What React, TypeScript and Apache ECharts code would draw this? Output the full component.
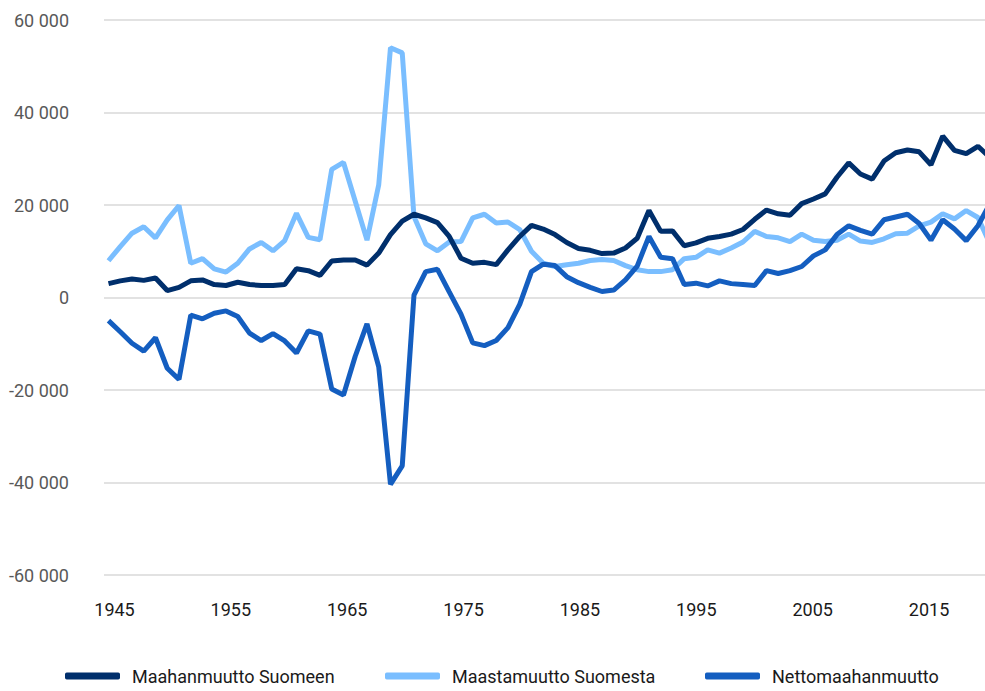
import React, { useEffect, useRef } from "react";
import * as echarts from "echarts";

const years: number[] = Array.from({ length: 76 }, (_, i) => 1945 + i);

const maahanmuutto: number[] = [
  3000, 3600, 4000, 3700, 4200, 1500, 2200, 3600, 3800, 2800,
  2600, 3300, 2800, 2600, 2600, 2800, 6200, 5800, 4800, 7900,
  8100, 8100, 7000, 9600, 13600, 16500, 18000, 17200, 16200, 13200,
  8500, 7400, 7600, 7100, 10300, 13200, 15600, 14800, 13600, 11900,
  10600, 10200, 9500, 9600, 10700, 12800, 18800, 14300, 14400, 11200,
  11800, 12800, 13200, 13700, 14700, 16900, 18900, 18100, 17800, 20300,
  21300, 22400, 26000, 29100, 26700, 25600, 29500, 31300, 31900, 31500,
  28700, 34900, 31800, 31100, 32700, 30300,
];

const maastamuutto: number[] = [
  7950, 11000, 13900, 15300, 12900, 16800, 19900, 7400, 8400, 6200,
  5500, 7400, 10500, 11900, 10100, 12300, 18200, 13000, 12500, 27700,
  29200, 20800, 12400, 24400, 54000, 52900, 17500, 11600, 10100, 12000,
  12100, 17200, 18000, 16100, 16300, 14700, 10000, 7400, 6700, 7100,
  7400, 8000, 8200, 8000, 6900, 6000, 5600, 5600, 6000, 8400,
  8700, 10300, 9600, 10700, 12000, 14300, 13200, 12900, 12100, 13700,
  12400, 12100, 12400, 13700, 12200, 11900, 12700, 13800, 13900, 15500,
  16300, 18100, 17000, 18800, 17300, 11700,
];

const netto: number[] = [
  -5000, -7400, -9900, -11600, -8700, -15300, -17700, -3800, -4600, -3400,
  -2900, -4100, -7700, -9300, -7800, -9400, -12000, -7200, -7900, -19800,
  -21100, -12700, -5700, -15000, -40400, -36400, 500, 5600, 6100, 1200,
  -3600, -9800, -10400, -9300, -6500, -1500, 5600, 7200, 6900, 4500,
  3200, 2200, 1300, 1600, 3800, 6800, 13200, 8700, 8400, 2800,
  3100, 2500, 3600, 3000, 2800, 2600, 5800, 5200, 5800, 6700,
  9000, 10300, 13600, 15500, 14500, 13700, 16800, 17400, 18000, 16000,
  12400, 16800, 14800, 12300, 15500, 20200,
];

const labelYears: number[] = [1945, 1955, 1965, 1975, 1985, 1995, 2005, 2015];

const names = ["Maahanmuutto Suomeen", "Maastamuutto Suomesta", "Nettomaahanmuutto"];
const colors = ["#002F6C", "#7ABEFF", "#145EC0"];

const FONT = "Roboto, 'Liberation Sans', sans-serif";

function fmt(v: number): string {
  const s = Math.abs(v).toString().replace(/\B(?=(\d{3})+(?!\d))/g, " ");
  return (v < 0 ? "-" : "") + s;
}

export default function App() {
  const ref = useRef<HTMLDivElement>(null);
  useEffect(() => {
    if (!ref.current) return;
    const chart = echarts.init(ref.current, undefined, { renderer: "svg" });
    const pairs = (arr: number[]) => years.map((y, i) => [y, arr[i]]);
    chart.setOption({
      animation: false,
      backgroundColor: "#ffffff",
      grid: { left: 104, right: 0, top: 20, bottom: 116, containLabel: false },
      xAxis: [
        {
          type: "value",
          min: 1944.617,
          max: 2019.6,
          axisLine: { show: false },
          axisTick: { show: false },
          splitLine: { show: false },
          axisLabel: { show: false },
        },
        {
          type: "value",
          position: "bottom",
          min: 1944.098,
          max: 2019.81,
          axisLine: { show: false },
          axisTick: { show: false },
          splitLine: { show: false },
          axisLabel: {
            show: true,
            customValues: labelYears,
            margin: 25,
            color: "#1a1a1a",
            fontFamily: FONT,
            fontSize: 18,
            formatter: (v: number) => String(v),
          },
        },
      ],
      yAxis: {
        type: "value",
        min: -60000,
        max: 60000,
        interval: 20000,
        axisLine: { show: false },
        axisTick: { show: false },
        splitLine: { lineStyle: { color: "#d9d9d9", width: 1.5 } },
        axisLabel: {
          margin: 35,
          color: "#595959",
          fontFamily: FONT,
          fontSize: 18,
          formatter: (v: number) => fmt(v),
        },
      },
      legend: names.map((n, i) => ({
        data: [n],
        left: 60 + i * 320,
        top: 662,
        icon: "roundRect",
        itemWidth: 55,
        itemHeight: 7,
        textStyle: {
          color: "#1a1a1a",
          fontFamily: FONT,
          fontSize: 18,
          padding: [0, 0, 0, 7],
        },
      })),
      series: names.map((n, i) => ({
        name: n,
        type: "line",
        xAxisIndex: 0,
        data: pairs([maahanmuutto, maastamuutto, netto][i]),
        showSymbol: false,
        symbol: "none",
        color: colors[i],
        lineStyle: { color: colors[i], width: 5 },
        clip: true,
        z: i === 2 ? 3 : i === 0 ? 4 : 2,
      })),
    });
    return () => chart.dispose();
  }, []);
  return (
    <div
      ref={ref}
      style={{ position: "absolute", left: 0, top: 0, width: 985, height: 691 }}
    />
  );
}
